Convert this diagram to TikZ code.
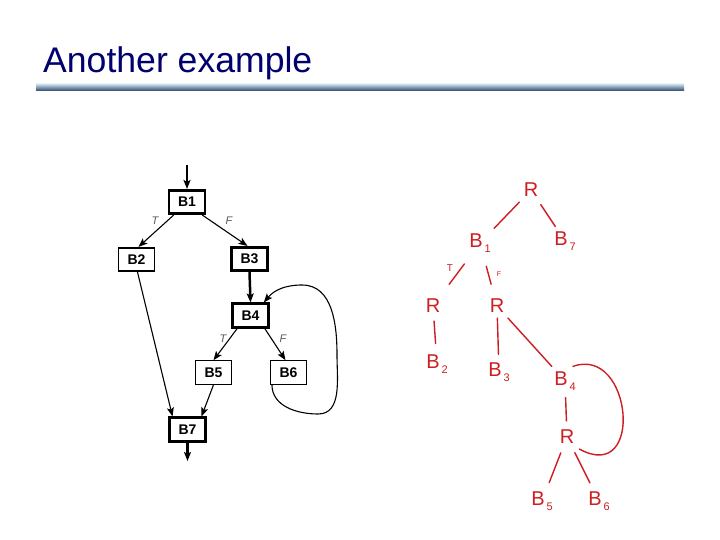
\documentclass[tikz,border=0pt]{standalone}
\usepackage{fontspec}
\setmainfont{Liberation Sans}
\usetikzlibrary{arrows.meta}
\definecolor{titleblue}{RGB}{0,0,110}
\definecolor{hred}{RGB}{205,30,35}
\definecolor{ruletop}{RGB}{205,225,232}
\definecolor{rulebot}{RGB}{45,65,115}
\definecolor{lblgray}{RGB}{90,90,90}
\newcommand{\hb}[1]{B\kern2pt\raisebox{-5pt}{\fontsize{11}{11}\selectfont #1}}
\begin{document}
\begin{tikzpicture}[x=1pt,y=-1pt,
 blk/.style={draw,rectangle,minimum width=36pt,minimum height=23.5pt,inner sep=0pt,font=\fontsize{14}{14}\selectfont\bfseries},
 thickblk/.style={blk,line width=2.6pt},
 medblk/.style={blk,line width=1.7pt},
 thinblk/.style={blk,line width=1.1pt},
 flow/.style={-{Stealth[length=9pt,width=7pt,inset=2pt]},line width=1.1pt},
 heavy/.style={-{Stealth[length=9pt,width=7pt,inset=2pt]},line width=2.5pt},
 tf/.style={font=\fontsize{11}{11}\selectfont\itshape,text=lblgray,inner sep=1pt},
 hw/.style={text=hred,font=\fontsize{20}{20}\selectfont,inner sep=5pt},
 hline/.style={draw=hred,line width=1.4pt,line cap=round},
 hlbl/.style={text=hred,inner sep=0pt},
]
\useasboundingbox[fill=white] (0,0) rectangle (720,540);
% title
\node[anchor=base west,inner sep=0pt,text=titleblue,font=\fontsize{35.6}{36}\selectfont] (title) at (43,73) {Another example};
\shade[top color=ruletop,bottom color=rulebot] (36,84) rectangle (684,91);

% flow graph
\node[thickblk] (B1) at (187,202) {B1};
\node[medblk] (B2) at (136.5,259.5) {B2};
\node[thickblk] (B3) at (249.5,259) {B3};
\node[thickblk] (B4) at (250.5,315.5) {B4};
\node[thinblk] (B5) at (213.5,372.5) {B5};
\node[thinblk] (B6) at (288.5,372.5) {B6};
\node[thickblk] (B7) at (187.5,429.5) {B7};
\coordinate (entry) at (187,165);
\coordinate (exit) at (187.5,461);
\draw[heavy] (entry) -- (B1.north);
\draw[heavy] (B7.south) -- (exit);
\draw[flow] ([xshift=6pt]B1.south west) -- ([xshift=2pt]B2.north);
\draw[flow] ([xshift=-4pt]B1.south east) -- ([xshift=-2pt]B3.north);
\draw[heavy] (B3.south) -- (B4.north);
\draw[flow] ([xshift=6pt]B4.south west) -- (B5.north);
\draw[flow] ([xshift=-5pt]B4.south east) -- ([xshift=-3pt]B6.north);
\draw[flow] ([xshift=1pt]B2.south) -- ([xshift=-15pt]B7.north);
\draw[flow] (B5.south) -- ([xshift=14pt]B7.north);
\draw[flow] ([xshift=2pt]B6.south west) to[out=-90,in=180] (318,414) to[out=0,in=-90] (337,355) to[out=90,in=0] (302,285) to[out=180,in=50] ([xshift=-6pt]B4.north east);
\node[tf] (t1) at (155,221) {T};
\node[tf] (f1) at (229,221) {F};
\node[tf] (t2) at (223,339) {T};
\node[tf] (f2) at (283,339) {F};

% red tree
\node[hw] (rR) at (531,190) {R};
\node[hw] (rB1) at (480,243) {\hb{1}};
\node[hw] (rB7) at (565,241) {\hb{7}};
\node[hw] (rRl) at (433,306) {R};
\node[hw] (rRm) at (497,306) {R};
\node[hw] (rB2) at (437,364) {\hb{2}};
\node[hw] (rB3) at (499,372) {\hb{3}};
\node[hw] (rB4) at (565,381) {\hb{4}};
\node[hw] (rRb) at (567,437) {R};
\node[hw] (rB5) at (542,501) {\hb{5}};
\node[hw] (rB6) at (599,501) {\hb{6}};
\draw[hline] (rR) -- (rB1);
\draw[hline,shorten <=3pt] (rR) -- (rB7);
\draw[hline,shorten <=8pt,shorten >=12pt] (rB1) -- (rRl);
\draw[hline,shorten <=9pt,shorten >=10pt] (rB1) -- (rRm);
\draw[hline,shorten <=3pt,shorten >=6pt] (rRl) -- (rB2);
\draw[hline,shorten >=3pt] (rRm) -- (rB3);
\draw[hline] (rRm) -- (rB4);
\draw[hline,shorten <=2pt,shorten >=4pt] (rB4) -- (rRb);
\draw[hline,shorten <=4pt,shorten >=4pt] (rRb) -- (rB5);
\draw[hline,shorten <=4pt,shorten >=4pt] (rRb) -- (rB6);
\draw[hline] ([xshift=-8pt]rB4.north east) .. controls (632,345) and (645,485) .. (rRb.south east);
\node[hlbl,font=\fontsize{10}{10}\selectfont] (rT) at (450,268) {T};
\node[hlbl,font=\fontsize{7}{7}\selectfont] (rF) at (499,274) {F};
\end{tikzpicture}
\end{document}
